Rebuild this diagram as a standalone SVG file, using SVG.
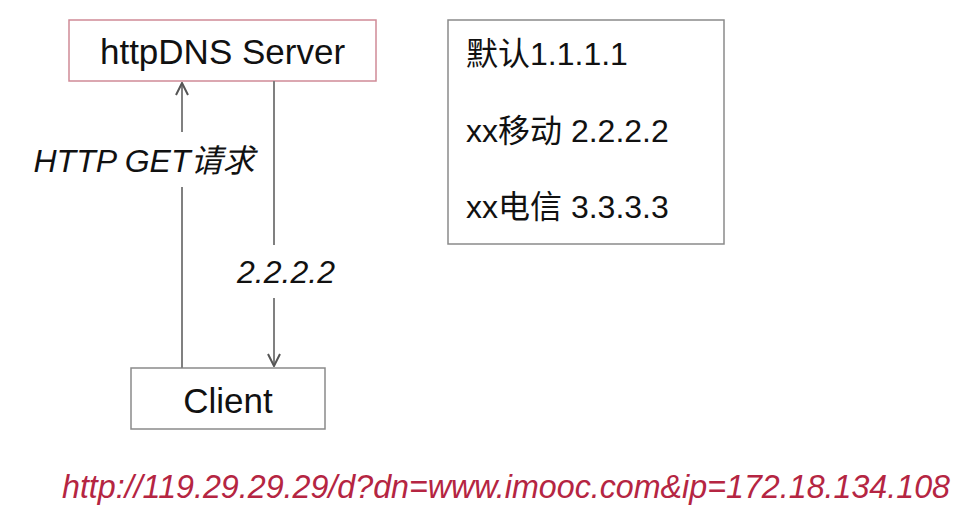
<svg xmlns="http://www.w3.org/2000/svg" width="964" height="515" viewBox="0 0 964 515">
<style>
text{font-family:"Liberation Sans","Noto Sans CJK SC",sans-serif;fill:#111}
.box{fill:#fff;stroke:#8a8a8a;stroke-width:1.5}
.conn{stroke:#808080;stroke-width:2;fill:none}
.lbl{font-style:italic;font-size:32px}
.row{font-size:32px}
</style>
<defs>
<marker id="ah" viewBox="0 0 14 14" refX="13" refY="7" markerWidth="14" markerHeight="14" markerUnits="userSpaceOnUse" orient="auto">
<path d="M1,1 L13,7 L1,13" fill="none" stroke="#555" stroke-width="2"/>
</marker>
</defs>
<rect width="964" height="515" fill="#fff"/>
<g id="server">
<rect x="69" y="20" width="307" height="61" fill="#fff" stroke="#cf8a97" stroke-width="1.5"/>
<text x="222.5" y="64" font-size="35" text-anchor="middle">httpDNS Server</text>
</g>
<g id="client">
<rect class="box" x="131" y="368" width="194" height="61"/>
<text x="228" y="413" font-size="35" text-anchor="middle">Client</text>
</g>
<g id="table">
<rect class="box" x="448" y="20" width="276" height="224"/>
<text class="row" x="466" y="65">默认1.1.1.1</text>
<text class="row" x="466" y="142">xx移动 2.2.2.2</text>
<text class="row" x="466" y="218">xx电信 3.3.3.3</text>
</g>
<g id="connectors">
<line class="conn" x1="182" y1="368" x2="182" y2="187"/>
<line class="conn" x1="182" y1="132" x2="182" y2="83" marker-end="url(#ah)"/>
<text class="lbl" x="144" y="172" text-anchor="middle">HTTP GET请求</text>
<line class="conn" x1="274" y1="81" x2="274" y2="245"/>
<line class="conn" x1="274" y1="298" x2="274" y2="366" marker-end="url(#ah)"/>
<text class="lbl" x="286" y="283" text-anchor="middle">2.2.2.2</text>
</g>
<g id="url">
<text x="62" y="498" font-size="33" font-style="italic" style="fill:#b52542" textLength="888" lengthAdjust="spacingAndGlyphs">http://119.29.29.29/d?dn=www.imooc.com&amp;ip=172.18.134.108</text>
</g>
</svg>
